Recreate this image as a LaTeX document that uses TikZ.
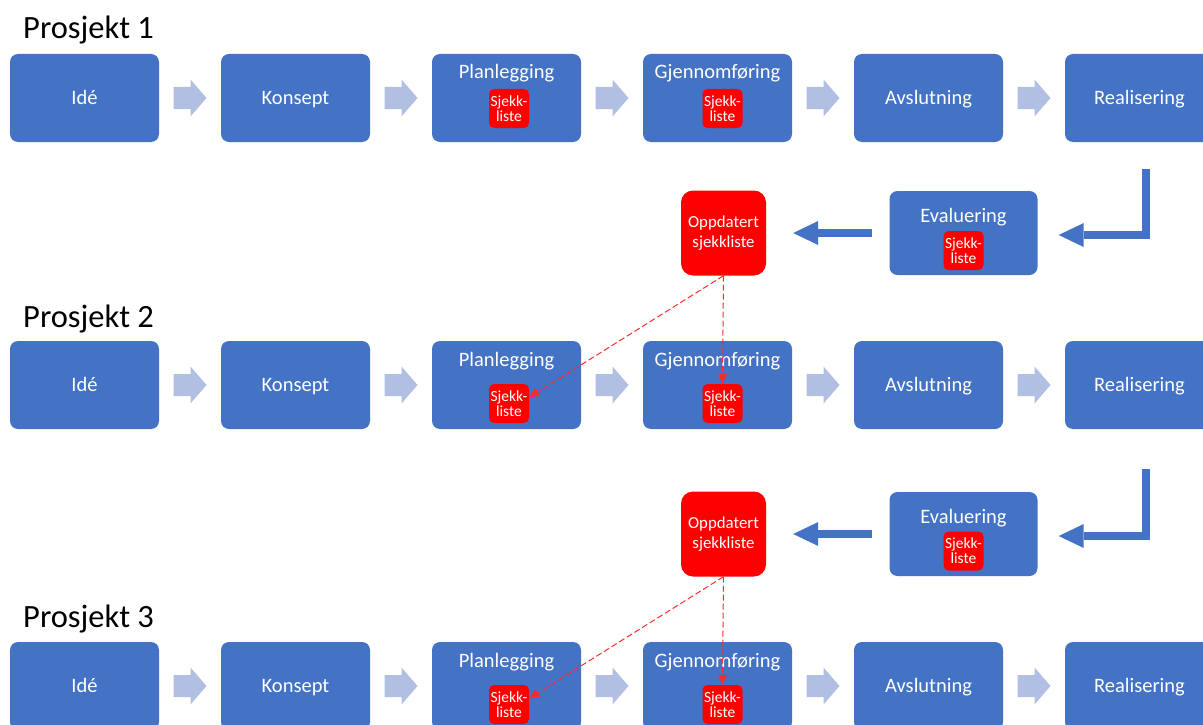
\documentclass[tikz,border=0pt]{standalone}
\usepackage{fontspec}
\setmainfont{Carlito}
\usetikzlibrary{arrows.meta,calc}
\definecolor{boxblue}{HTML}{4472C4}
\definecolor{chevblue}{HTML}{B1BFE2}
\definecolor{sjred}{HTML}{FF0000}
\definecolor{dashred}{HTML}{FF2A2A}
\tikzset{
  stepbox/.style={fill=boxblue, rounded corners=8pt, minimum width=149pt, minimum height=88pt,
    inner sep=0pt, text=white, text height=16pt, text depth=4pt, font=\fontsize{20.5}{24}\selectfont},
  evalbox/.style={stepbox, minimum width=148pt, minimum height=84pt},
  boxtitle/.style={text=white, inner sep=0pt, anchor=base, font=\fontsize{20.5}{24}\selectfont},
  sjekk/.style={fill=sjred, rounded corners=5pt, minimum width=40pt, minimum height=39pt,
    inner sep=0pt, text=white, align=center, font=\fontsize{15.5}{15}\selectfont},
  oppd/.style={fill=sjred, rounded corners=12pt, minimum width=85pt, minimum height=85pt,
    inner sep=0pt, text=white, align=center, font=\fontsize{16.8}{20}\selectfont},
  projtitle/.style={anchor=base west, inner sep=0pt, font=\fontsize{32.5}{36}\selectfont},
  chevpic/.pic={\fill[chevblue] (-16.5,-11) -- (0.5,-11) -- (0.5,-18.5) -- (16.5,0)
     -- (0.5,18.5) -- (0.5,11) -- (-16.5,11) -- cycle;},
  bigarrow/.style={draw=boxblue, line width=8pt, line join=miter,
    -{Triangle[length=25pt,width=24pt,line width=0pt]}},
  dasharrow/.style={draw=dashred, line width=1pt, dash pattern=on 6pt off 3pt,
    -{Triangle[length=10pt,width=9pt,line width=0pt]}},
}
\begin{document}
\begin{tikzpicture}[x=1pt,y=-1pt]
\clip (0,0) rectangle (1203,725);
\fill[white] (0,0) rectangle (1203,725);

% project titles
\node[projtitle] (t1) at (23,39) {Prosjekt 1};
\node[projtitle] (t2) at (23,327) {Prosjekt 2};
\node[projtitle] (t3) at (23,627) {Prosjekt 3};

% rows of process boxes
\foreach \r/\y/\ty/\sy in {1/98/79/108.5, 2/385/366.5/403.5, 3/686/667/704.5}{
  \node[stepbox] (r\r a) at (84.5,\y) {Idé};
  \node[stepbox] (r\r b) at (295.5,\y) {Konsept};
  \node[stepbox] (r\r c) at (506.5,\y) {};
  \node[stepbox] (r\r d) at (717.5,\y) {};
  \node[stepbox] (r\r e) at (928.5,\y) {Avslutning};
  \node[stepbox] (r\r f) at (1139.5,\y) {Realisering};
  \node[boxtitle] (r\r ct) at (506.5,\ty) {Planlegging};
  \node[boxtitle] (r\r dt) at (717.5,\ty) {Gjennomføring};
  \node[sjekk] (r\r cs) at (509,\sy) {Sjekk-\\liste};
  \node[sjekk] (r\r ds) at (722.5,\sy) {Sjekk-\\liste};
  \path ($(r\r a.east)!0.5!(r\r b.west)$) pic{chevpic};
  \path ($(r\r b.east)!0.5!(r\r c.west)$) pic{chevpic};
  \path ($(r\r c.east)!0.5!(r\r d.west)$) pic{chevpic};
  \path ($(r\r d.east)!0.5!(r\r e.west)$) pic{chevpic};
  \path ($(r\r e.east)!0.5!(r\r f.west)$) pic{chevpic};
}

% evaluation loops
\foreach \k/\y/\ty/\sy/\top in {1/233/222/250.5/169, 2/534/523/551/469}{
  \node[evalbox] (ev\k) at (963.5,\y) {};
  \node[boxtitle] (ev\k t) at (963.5,\ty) {Evaluering};
  \node[sjekk] (ev\k s) at (963.5,\sy) {Sjekk-\\liste};
  \node[oppd] (op\k) at (723.5,\y) {Oppdatert\\sjekkliste};
  \coordinate (bend\k) at (1145.5,\top);
  \draw[bigarrow] (bend\k) |- ($(ev\k.east)+(21,2)$);
  \draw[bigarrow, shorten <=17pt, shorten >=27pt] (ev\k.west) -- (op\k.east);
}

% updated checklists feed the next project
\draw[dasharrow] (op1.south) -- (r2ds.north);
\draw[dasharrow] (op1.south) -- (r2cs.17);
\draw[dasharrow] (op2.south) -- (r3ds.north);
\draw[dasharrow] (op2.south) -- (r3cs.17);
\end{tikzpicture}
\end{document}
